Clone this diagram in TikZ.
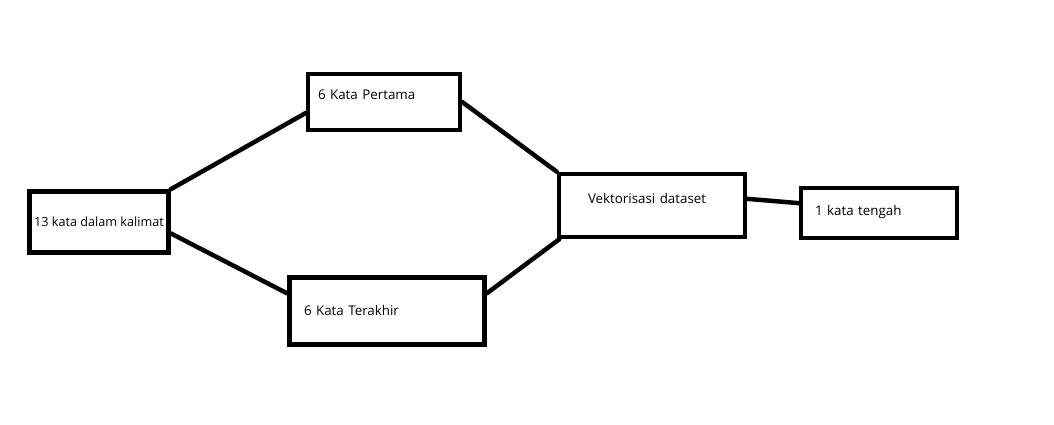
\documentclass[tikz,border=0pt]{standalone}
\usepackage{fontspec}
\setmainfont{Open Sans}
\begin{document}
\begin{tikzpicture}[kotak/.style={draw, line width=2.55pt, inner sep=0pt, align=left, font=\fontsize{7.6}{9}\selectfont},
	garis/.style={line width=2.55pt, line cap=round}]
	\useasboundingbox (0,0) rectangle (21.08,8.48);
	\node (K13) at ( 1.98, 4.04)	[kotak, align=center, font=\fontsize{7.2}{9}\selectfont, minimum width=2.78cm, minimum height=1.22cm]	{13 kata dalam kalimat};
	\node (P6) at ( 7.68, 6.44)	[kotak, inner xsep=0.20cm, text width=2.64cm, text height=0.50cm, text depth=0.62cm]	{6 Kata Pertama};
	\node (T6) at ( 7.74, 2.26)	[kotak, inner xsep=0.29cm, text width=3.32cm, text height=0.75cm, text depth=0.59cm]	{6 Kata Terakhir};
	\node (VD) at (13.04, 4.37)	[kotak, inner xsep=0.58cm, text width=2.56cm, text height=0.58cm, text depth=0.68cm]	{Vektorisasi dataset};
	\node (KT) at (17.58, 4.22)	[kotak, inner xsep=0.28cm, text width=2.56cm, text height=0.54cm, text depth=0.46cm]	{1 kata tengah};
	\draw[garis] (K13.north east) -- (P6.188);
	\draw[garis] (K13.351) -- (T6.170);
	\draw[garis] (P6.east) -- (VD.north west);
	\draw[garis] (T6.10) -- (VD.200);
	\draw[garis] (VD.4) -- (KT.173);
\end{tikzpicture}
\end{document}
